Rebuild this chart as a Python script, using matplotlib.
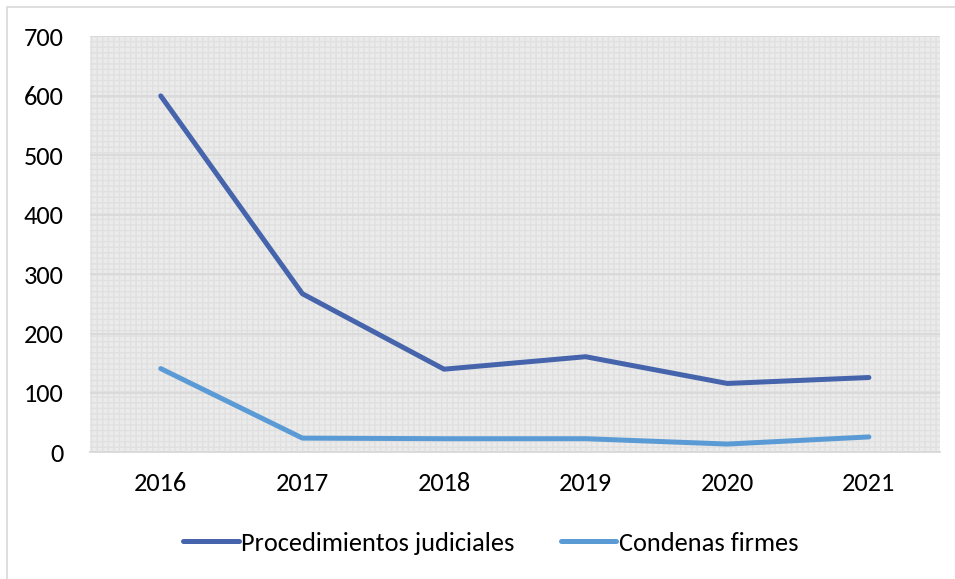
import matplotlib.pyplot as plt
from matplotlib.patches import Rectangle

years = ['2016', '2017', '2018', '2019', '2020', '2021']
procedimientos = [600, 267, 140, 161, 116, 126]
condenas = [141, 24, 23, 23, 14, 26]

plt.rcParams['font.family'] = ['Carlito', 'Open Sans', 'DejaVu Sans']

fig = plt.figure(figsize=(9.55, 5.79), dpi=100)
ax = fig.add_axes([0.0942, 0.2187, 0.8898, 0.7183])

# outer chart frame
fig.patches.append(Rectangle((7 / 955, -0.01), 1.0, 1.0 - 7 / 579 + 0.01,
                             transform=fig.transFigure, fill=False,
                             edgecolor='#d9d9d9', linewidth=1.2))

ax.set_facecolor('#ebebeb')
ax.add_patch(Rectangle((0, 0), 1, 1, transform=ax.transAxes, facecolor='none',
                       edgecolor='#e0e0e0', hatch='+++', linewidth=0, zorder=0.5))

x = range(len(years))
ax.plot(x, procedimientos, color='#4664ac', lw=3.6, solid_capstyle='round',
        solid_joinstyle='round', label='Procedimientos judiciales', zorder=3)
ax.plot(x, condenas, color='#5b9bd5', lw=3.6, solid_capstyle='round',
        solid_joinstyle='round', label='Condenas firmes', zorder=3)

ax.set_xlim(-0.5, 5.5)
ax.set_ylim(0, 700)
ax.set_yticks(range(0, 701, 100))
ax.set_xticks(list(x))
ax.set_xticklabels(years)
ax.grid(axis='y', color='#d9d9d9', lw=1.3, zorder=1)
ax.set_axisbelow(True)
for s in ['top', 'left', 'right']:
    ax.spines[s].set_visible(False)
ax.spines['bottom'].set_color('#d9d9d9')
ax.spines['bottom'].set_linewidth(1.3)
ax.tick_params(axis='both', length=0, labelsize=19, colors='black')
ax.tick_params(axis='y', pad=19)
ax.tick_params(axis='x', pad=14)

fig.legend(loc='center', bbox_to_anchor=(0.514, 0.062), ncol=2, frameon=False,
           fontsize=19, handlelength=2.1, handletextpad=0.1, columnspacing=1.75)

fig.savefig('out.png', dpi=100)
